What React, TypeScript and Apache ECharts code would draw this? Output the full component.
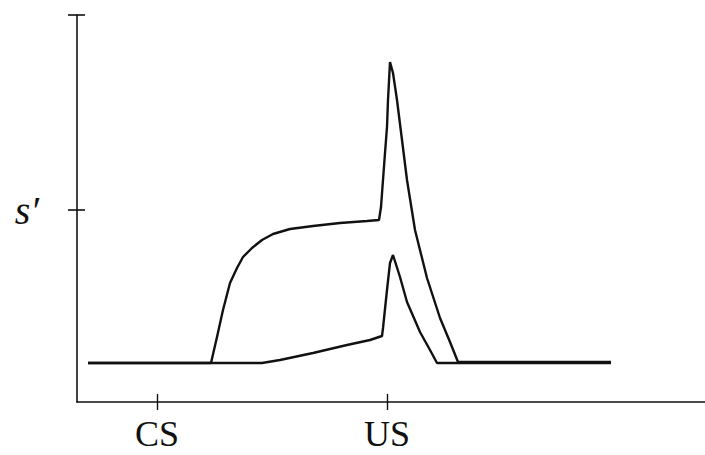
import React, { useEffect, useRef } from "react";
import * as echarts from "echarts";

// Time runs from CS onset (0) to US onset (230); response strength s' on y.
const xTickValues = [0, 230];
const xTickLabels = ["CS", "US"];
const yTickValues = [192, 387];
const yTickLabels: Record<number, string> = { 192: "s\u2032", 387: "" };

const upperTime = [-69, 54, 60, 66, 73, 80, 86, 95, 105, 116, 133, 156, 183, 210, 222, 224, 226, 228, 230, 231, 233, 236, 240, 245, 250, 258, 270, 283, 293, 301, 454];
const upperValue = [39, 39, 65, 92, 119, 134, 145, 154, 162, 168, 173, 176, 179, 181, 182, 195, 222, 249, 275, 302, 340, 329, 302, 262, 222, 172, 124, 84, 60, 40, 40];

const lowerTime = [-69, 105, 123, 156, 190, 213, 225, 226, 230, 233, 236, 243, 250, 263, 273, 280, 454];
const lowerValue = [39, 39, 42, 49, 57, 62, 66, 74, 112, 139, 147, 125, 100, 70, 52, 39, 39];

const X_MIN = -80;
const X_MAX = 548;
const Y_MIN = 0;
const Y_MAX = 387;

const ink = "#111";
const serif = "Liberation Serif";

const pair = (xs: number[], ys: number[]) => xs.map((x, i) => [x, ys[i]]);

export default function App() {
  const ref = useRef<HTMLDivElement>(null);

  useEffect(() => {
    if (!ref.current) return;
    const chart = echarts.init(ref.current, null, { renderer: "svg" });

    const baseX = {
      type: "value" as const,
      min: X_MIN,
      max: X_MAX,
      position: "bottom" as const,
      splitLine: { show: false },
    };
    const baseY = {
      type: "value" as const,
      min: Y_MIN,
      max: Y_MAX,
      position: "left" as const,
      splitLine: { show: false },
    };

    chart.setOption({
      animation: false,
      backgroundColor: "#fff",
      textStyle: { fontFamily: serif },
      grid: { left: 77, top: 15, right: 0, bottom: 53 },
      xAxis: [
        {
          ...baseX,
          axisLine: { show: true, onZero: false, lineStyle: { color: ink, width: 1.6 } },
          axisTick: {
            show: true,
            customValues: xTickValues,
            length: 8,
            inside: false,
            lineStyle: { color: ink, width: 1.4 },
          },
          axisLabel: {
            show: true,
            customValues: xTickValues,
            formatter: (v: number) => xTickLabels[xTickValues.indexOf(v)] ?? "",
            color: ink,
            fontFamily: serif,
            fontSize: 36,
            margin: 14,
          },
        },
        {
          ...baseX,
          axisLine: { show: false, onZero: false },
          axisTick: {
            show: true,
            customValues: xTickValues,
            length: 8,
            inside: true,
            lineStyle: { color: ink, width: 1.4 },
          },
          axisLabel: { show: false },
        },
      ],
      yAxis: [
        {
          ...baseY,
          axisLine: { show: true, onZero: false, lineStyle: { color: ink, width: 1.6 } },
          axisTick: {
            show: true,
            customValues: yTickValues,
            length: 9,
            inside: false,
            lineStyle: { color: ink, width: 1.6 },
          },
          axisLabel: {
            show: true,
            customValues: yTickValues,
            formatter: (v: number) => yTickLabels[v] ?? "",
            color: ink,
            fontFamily: serif,
            fontStyle: "italic",
            fontSize: 40,
            margin: 38,
            verticalAlign: "middle",
            padding: [0, 0, 34, 0],
          },
        },
        {
          ...baseY,
          axisLine: { show: false, onZero: false },
          axisTick: {
            show: true,
            customValues: yTickValues,
            length: 8,
            inside: true,
            lineStyle: { color: ink, width: 1.6 },
          },
          axisLabel: { show: false },
        },
      ],
      series: [
        {
          type: "line",
          name: "upper",
          data: pair(upperTime, upperValue),
          showSymbol: false,
          lineStyle: { color: ink, width: 2.4 },
          xAxisIndex: 0,
          yAxisIndex: 0,
        },
        {
          type: "line",
          name: "lower",
          data: pair(lowerTime, lowerValue),
          showSymbol: false,
          lineStyle: { color: ink, width: 2.4 },
          xAxisIndex: 0,
          yAxisIndex: 0,
        },
      ],
    });

    return () => chart.dispose();
  }, []);

  return (
    <div
      ref={ref}
      style={{ position: "fixed", left: 0, top: 0, width: 705, height: 455, background: "#fff" }}
    />
  );
}
